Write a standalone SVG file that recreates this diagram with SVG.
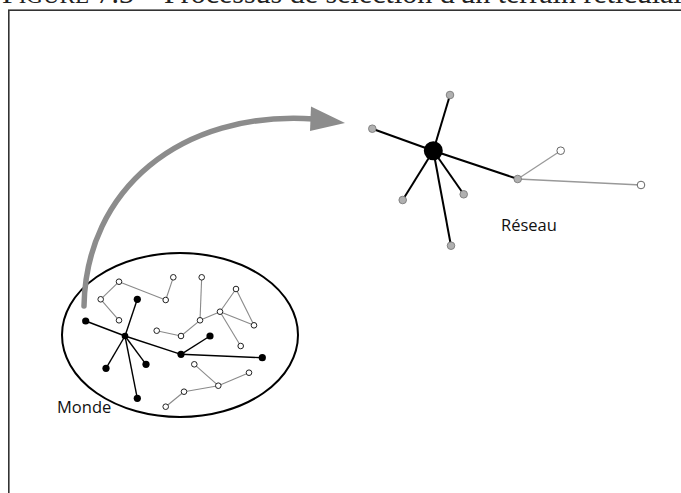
<svg xmlns="http://www.w3.org/2000/svg" width="681" height="493" viewBox="0 0 681 493">
  <style>
    .title { font-family: "Liberation Serif", "Times New Roman", serif; font-size: 30px; fill: #222; }
    .label { font-family: "Open Sans", "DejaVu Sans", sans-serif; font-size: 16.5px; fill: #111; }
    .frame { fill: none; stroke: #333; stroke-width: 1.6; }
    .world { fill: #fff; stroke: #000; stroke-width: 2; }
    .e-black { stroke: #000; stroke-width: 1.4; fill: none; }
    .e-grey { stroke: #8a8a8a; stroke-width: 1.1; fill: none; }
    .e-net { stroke: #000; stroke-width: 2; fill: none; }
    .e-net-grey { stroke: #999; stroke-width: 1.3; fill: none; }
    .n-black { fill: #000; }
    .n-open { fill: #fff; stroke: #222; stroke-width: 1; }
    .n-grey { fill: #b0b0b0; stroke: #7a7a7a; stroke-width: 0.9; }
    .n-open-net { fill: #fff; stroke: #666; stroke-width: 1; }
    .arrow { fill: none; stroke: #8c8c8c; stroke-width: 5.5; stroke-linecap: round; }
    .arrow-head { fill: #8c8c8c; }
  </style>

  <!-- caption line, partly above the top edge -->
  <text class="title" x="2" y="3"><tspan>F</tspan><tspan font-size="23">IGURE</tspan><tspan> 7.3 – Processus de sélection d'un terrain réticulaire</tspan></text>

  <!-- figure frame -->
  <rect class="frame" x="8.8" y="10.2" width="700" height="500"/>

  <!-- world -->
  <g id="monde">
    <ellipse class="world" cx="180" cy="335" rx="118" ry="82"/>
    <text class="label" x="57" y="413">Monde</text>
  </g>

  <!-- connectors -->
  <g id="connectors">
    <!-- grey sub-networks inside the world -->
    <g class="e-grey">
      <line x1="100.7" y1="299.3" x2="119" y2="281.7"/>
      <line x1="100.7" y1="299.3" x2="119" y2="320.3"/>
      <line x1="119" y1="281.7" x2="165.7" y2="300"/>
      <line x1="165.7" y1="300" x2="173.3" y2="277.3"/>
      <line x1="201.7" y1="277.3" x2="200" y2="320.3"/>
      <line x1="156.7" y1="330.7" x2="181" y2="336"/>
      <line x1="181" y1="336" x2="200" y2="320.3"/>
      <line x1="200" y1="320.3" x2="220" y2="311.7"/>
      <line x1="220" y1="311.7" x2="236" y2="289"/>
      <line x1="236" y1="289" x2="254" y2="325.3"/>
      <line x1="220" y1="311.7" x2="254" y2="325.3"/>
      <line x1="220" y1="311.7" x2="240.7" y2="346"/>
      <line x1="194.3" y1="364.3" x2="218.3" y2="385.7"/>
      <line x1="218.3" y1="385.7" x2="249" y2="372.7"/>
      <line x1="218.3" y1="385.7" x2="184" y2="391.7"/>
      <line x1="184" y1="391.7" x2="165.7" y2="406.7"/>
    </g>
    <!-- selected (black) network inside the world -->
    <g class="e-black">
      <line x1="125" y1="336" x2="85.7" y2="321"/>
      <line x1="125" y1="336" x2="137.3" y2="299.3"/>
      <line x1="125" y1="336" x2="106" y2="368.3"/>
      <line x1="125" y1="336" x2="146" y2="364.3"/>
      <line x1="125" y1="336" x2="137.3" y2="398.3"/>
      <line x1="125" y1="336" x2="181" y2="354.3"/>
      <line x1="181" y1="354.3" x2="210" y2="336"/>
      <line x1="181" y1="354.3" x2="262.3" y2="357.7"/>
    </g>
    <!-- extracted network -->
    <g class="e-net">
      <line x1="433.3" y1="150.7" x2="450" y2="95"/>
      <line x1="433.3" y1="150.7" x2="372.3" y2="128.7"/>
      <line x1="433.3" y1="150.7" x2="402.7" y2="200"/>
      <line x1="433.3" y1="150.7" x2="463.7" y2="194.3"/>
      <line x1="433.3" y1="150.7" x2="451" y2="245.7"/>
      <line x1="433.3" y1="150.7" x2="517.7" y2="179"/>
    </g>
    <g class="e-net-grey">
      <line x1="517.7" y1="179" x2="560.7" y2="150.7"/>
      <line x1="517.7" y1="179" x2="641" y2="185"/>
    </g>
    <!-- selection arrow -->
    <path class="arrow" d="M84,306 C86,190 180,110 314,119"/>
    <polygon class="arrow-head" points="311,106.5 345,123 310,131"/>
  </g>

  <!-- world nodes -->
  <g id="monde-nodes">
    <circle class="n-open" cx="119" cy="281.7" r="2.8"/>
    <circle class="n-open" cx="100.7" cy="299.3" r="2.8"/>
    <circle class="n-open" cx="119" cy="320.3" r="2.8"/>
    <circle class="n-open" cx="165.7" cy="300" r="2.8"/>
    <circle class="n-open" cx="173.3" cy="277.3" r="2.8"/>
    <circle class="n-open" cx="201.7" cy="277.3" r="2.8"/>
    <circle class="n-open" cx="200" cy="320.3" r="2.8"/>
    <circle class="n-open" cx="156.7" cy="330.7" r="2.8"/>
    <circle class="n-open" cx="181" cy="336" r="2.8"/>
    <circle class="n-open" cx="220" cy="311.7" r="2.8"/>
    <circle class="n-open" cx="236" cy="289" r="2.8"/>
    <circle class="n-open" cx="254" cy="325.3" r="2.8"/>
    <circle class="n-open" cx="240.7" cy="346" r="2.8"/>
    <circle class="n-open" cx="194.3" cy="364.3" r="2.8"/>
    <circle class="n-open" cx="249" cy="372.7" r="2.8"/>
    <circle class="n-open" cx="218.3" cy="385.7" r="2.8"/>
    <circle class="n-open" cx="184" cy="391.7" r="2.8"/>
    <circle class="n-open" cx="165.7" cy="406.7" r="2.8"/>

    <circle class="n-black" cx="85.7" cy="321" r="3.6"/>
    <circle class="n-black" cx="125" cy="336" r="3.3"/>
    <circle class="n-black" cx="137.3" cy="299.3" r="3.6"/>
    <circle class="n-black" cx="106" cy="368.3" r="3.6"/>
    <circle class="n-black" cx="146" cy="364.3" r="3.6"/>
    <circle class="n-black" cx="137.3" cy="398.3" r="3.6"/>
    <circle class="n-black" cx="181" cy="354.3" r="3.6"/>
    <circle class="n-black" cx="210" cy="336" r="3.6"/>
    <circle class="n-black" cx="262.3" cy="357.7" r="3.6"/>
  </g>

  <!-- extracted network -->
  <g id="reseau">
    <circle class="n-black" cx="433.3" cy="150.7" r="9.5"/>
    <circle class="n-grey" cx="450" cy="95" r="3.8"/>
    <circle class="n-grey" cx="372.3" cy="128.7" r="3.8"/>
    <circle class="n-grey" cx="402.7" cy="200" r="3.8"/>
    <circle class="n-grey" cx="463.7" cy="194.3" r="3.8"/>
    <circle class="n-grey" cx="451" cy="245.7" r="3.8"/>
    <circle class="n-grey" cx="517.7" cy="179" r="3.8"/>
    <circle class="n-open-net" cx="560.7" cy="150.7" r="3.8"/>
    <circle class="n-open-net" cx="641" cy="185" r="3.8"/>
    <text class="label" x="501" y="231">Réseau</text>
  </g>
</svg>
